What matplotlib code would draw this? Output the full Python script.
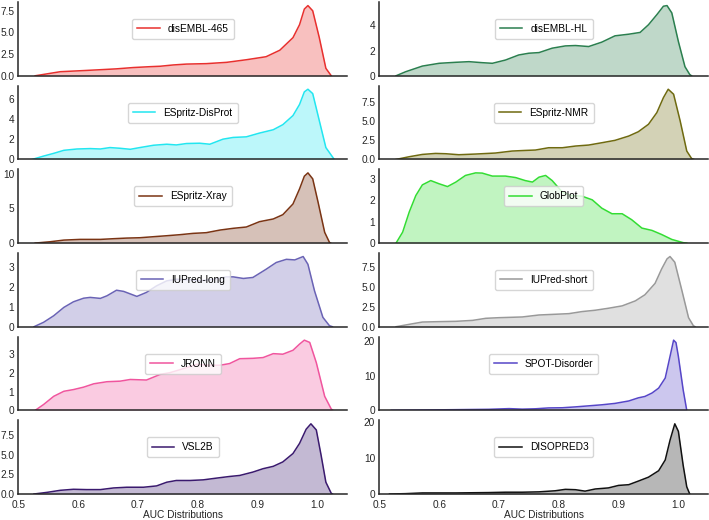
import matplotlib
matplotlib.use("Agg")
import matplotlib.pyplot as plt

plt.rcParams['font.family'] = ['Liberation Sans', 'DejaVu Sans']

# curves (AUC value, density)
disembl465_x = [0.528, 0.57, 0.609, 0.637, 0.664, 0.692, 0.72, 0.737, 0.759, 0.781, 0.814, 0.848,
                0.881, 0.914, 0.937, 0.959, 0.97, 0.978, 0.984, 0.992, 1.003, 1.014, 1.023]
disembl465_y = [0.0, 0.47, 0.6, 0.7, 0.8, 0.95, 1.05, 1.1, 1.25, 1.35, 1.4, 1.55,
                1.85, 2.2, 2.95, 4.4, 5.9, 7.7, 8.1, 7.5, 4.4, 0.86, 0.0]

disprot_x = [0.523, 0.542, 0.559, 0.576, 0.598, 0.62, 0.637, 0.653, 0.67, 0.687, 0.703, 0.726,
             0.748, 0.764, 0.781, 0.803, 0.82, 0.842, 0.859, 0.881, 0.903, 0.926, 0.942, 0.959,
             0.97, 0.978, 0.984, 0.992, 1.003, 1.014, 1.026, 1.028]
disprot_y = [0.0, 0.33, 0.6, 0.9, 1.03, 1.07, 1.03, 1.17, 1.1, 1.0, 1.17, 1.4,
             1.5, 1.43, 1.57, 1.6, 1.5, 2.0, 2.17, 2.23, 2.6, 2.93, 3.43, 4.33,
             5.43, 6.67, 6.93, 6.5, 3.83, 1.17, 0.17, 0.0]

xray_x = [0.528, 0.553, 0.576, 0.603, 0.637, 0.659, 0.681, 0.703, 0.726, 0.748, 0.77, 0.792,
          0.814, 0.837, 0.859, 0.881, 0.903, 0.926, 0.942, 0.959, 0.97, 0.978, 0.984, 0.992,
          1.001, 1.012, 1.02, 1.022]
xray_y = [0.0, 0.19, 0.43, 0.53, 0.53, 0.63, 0.72, 0.77, 0.92, 1.06, 1.21, 1.4,
          1.5, 1.88, 2.13, 2.32, 3.09, 3.48, 4.1, 5.65, 7.83, 9.66, 10.14, 9.28,
          5.89, 1.55, 0.1, 0.0]

iulong_x = [0.526, 0.542, 0.559, 0.576, 0.592, 0.609, 0.62, 0.637, 0.648, 0.664, 0.676, 0.698,
            0.714, 0.731, 0.748, 0.764, 0.787, 0.803, 0.826, 0.848, 0.859, 0.876, 0.892, 0.914,
            0.931, 0.948, 0.962, 0.976, 0.984, 0.995, 1.009, 1.02, 1.025]
iulong_y = [0.0, 0.22, 0.55, 0.97, 1.25, 1.43, 1.47, 1.42, 1.55, 1.83, 1.77, 1.52,
            1.72, 2.05, 2.3, 2.38, 2.35, 2.3, 2.38, 2.5, 2.5, 2.42, 2.47, 2.88,
            3.22, 3.38, 3.35, 3.52, 3.13, 1.8, 0.47, 0.05, 0.0]

jronn_x = [0.528, 0.542, 0.559, 0.576, 0.592, 0.609, 0.626, 0.648, 0.67, 0.687, 0.714, 0.737,
           0.753, 0.776, 0.798, 0.82, 0.837, 0.853, 0.87, 0.892, 0.909, 0.926, 0.942, 0.959,
           0.97, 0.978, 0.987, 0.998, 1.012, 1.023, 1.026]
jronn_y = [0.0, 0.31, 0.75, 1.02, 1.11, 1.24, 1.42, 1.53, 1.56, 1.65, 1.62, 1.92,
           2.01, 2.23, 2.46, 2.41, 2.41, 2.5, 2.76, 2.78, 2.82, 3.03, 3.0, 3.21,
           3.54, 3.75, 3.63, 2.55, 0.75, 0.07, 0.0]

vsl2b_x = [0.526, 0.548, 0.57, 0.592, 0.614, 0.637, 0.659, 0.681, 0.709, 0.731, 0.748, 0.764,
           0.787, 0.809, 0.831, 0.853, 0.87, 0.892, 0.909, 0.926, 0.942, 0.959, 0.97, 0.981,
           0.989, 0.998, 1.006, 1.014, 1.023, 1.025]
vsl2b_y = [0.0, 0.21, 0.47, 0.6, 0.56, 0.56, 0.77, 0.86, 0.86, 1.03, 1.5, 1.72,
           1.72, 1.8, 2.02, 2.23, 2.36, 2.79, 3.22, 3.52, 4.08, 5.15, 6.44, 8.24,
           8.93, 8.15, 4.94, 1.5, 0.09, 0.0]

diseHL_x = [0.528, 0.544, 0.572, 0.6, 0.628, 0.65, 0.672, 0.689, 0.711, 0.733, 0.75, 0.767,
            0.789, 0.811, 0.828, 0.85, 0.872, 0.894, 0.917, 0.936, 0.95, 0.964, 0.975, 0.981,
            0.989, 1.0, 1.011, 1.019, 1.022]
diseHL_y = [0.0, 0.32, 0.77, 0.99, 1.07, 1.12, 1.04, 0.99, 1.25, 1.65, 1.79, 1.84,
            2.19, 2.37, 2.4, 2.32, 2.67, 3.17, 3.3, 3.44, 4.05, 4.85, 5.52, 5.57,
            4.99, 2.72, 0.72, 0.1, 0.0]

nmr_x = [0.528, 0.55, 0.572, 0.594, 0.611, 0.633, 0.661, 0.694, 0.722, 0.744, 0.761, 0.783,
         0.806, 0.828, 0.85, 0.872, 0.894, 0.917, 0.933, 0.95, 0.964, 0.975, 0.983, 0.992,
         1.003, 1.014, 1.022, 1.026]
nmr_y = [0.0, 0.35, 0.65, 0.78, 0.74, 0.61, 0.7, 0.83, 1.09, 1.17, 1.22, 1.52,
         1.52, 1.74, 1.87, 2.17, 2.48, 3.04, 3.6, 4.57, 6.09, 8.04, 9.13, 8.48,
         5.0, 1.09, 0.13, 0.0]

globplot_x = [0.528, 0.539, 0.55, 0.561, 0.572, 0.586, 0.6, 0.614, 0.628, 0.644, 0.661, 0.672,
              0.689, 0.711, 0.728, 0.744, 0.756, 0.767, 0.778, 0.789, 0.806, 0.822, 0.839, 0.856,
              0.872, 0.889, 0.906, 0.922, 0.939, 0.956, 0.972, 0.989, 1.008, 1.014]
globplot_y = [0.0, 0.51, 1.45, 2.22, 2.72, 2.92, 2.77, 2.64, 2.85, 3.16, 3.28, 3.27,
              3.13, 3.13, 3.06, 2.92, 2.85, 3.08, 3.16, 2.92, 2.38, 2.22, 2.19, 2.02,
              1.63, 1.37, 1.37, 1.09, 0.7, 0.59, 0.4, 0.17, 0.02, 0.0]

iushort_x = [0.528, 0.55, 0.572, 0.6, 0.628, 0.656, 0.678, 0.7, 0.722, 0.739, 0.767, 0.794,
             0.817, 0.839, 0.861, 0.883, 0.906, 0.928, 0.944, 0.961, 0.972, 0.981, 0.986, 0.994,
             1.006, 1.017, 1.025, 1.028]
iushort_y = [0.0, 0.3, 0.59, 0.64, 0.68, 0.8, 1.06, 1.14, 1.19, 1.23, 1.48, 1.57,
             1.65, 1.91, 2.08, 2.33, 2.63, 3.26, 4.03, 5.47, 7.29, 8.56, 8.86, 8.14,
             4.53, 1.14, 0.13, 0.0]

spot_x = [0.52, 0.572, 0.628, 0.683, 0.717, 0.739, 0.761, 0.783, 0.806, 0.828, 0.85, 0.872,
          0.894, 0.917, 0.933, 0.944, 0.956, 0.967, 0.978, 0.986, 0.992, 0.996, 1.0, 1.008, 1.014]
spot_y = [0.02, 0.1, 0.2, 0.3, 0.5, 0.35, 0.45, 0.7, 0.75, 1.0, 1.3, 1.6,
          2.0, 2.7, 3.6, 4.0, 5.0, 6.4, 9.3, 15.5, 20.2, 19.5, 15.5, 5.9, 0.0]

disopred_x = [0.517, 0.544, 0.572, 0.628, 0.683, 0.711, 0.739, 0.767, 0.794, 0.811, 0.828, 0.844,
              0.861, 0.883, 0.9, 0.917, 0.933, 0.95, 0.967, 0.978, 0.986, 0.994, 1.0, 1.008,
              1.014, 1.019]
disopred_y = [0.0, 0.1, 0.3, 0.3, 0.4, 0.5, 0.5, 0.6, 0.9, 1.3, 1.2, 0.8,
              1.4, 1.7, 2.4, 2.6, 3.6, 4.7, 6.5, 9.5, 15.0, 19.6, 17.5, 8.0,
              2.0, 0.0]

names_left = ["disEMBL-465", "ESpritz-DisProt", "ESpritz-Xray", "IUPred-long", "JRONN", "VSL2B"]
names_right = ["disEMBL-HL", "ESpritz-NMR", "GlobPlot", "IUPred-short", "SPOT-Disorder", "DISOPRED3"]
curves_left = [(disembl465_x, disembl465_y), (disprot_x, disprot_y), (xray_x, xray_y),
               (iulong_x, iulong_y), (jronn_x, jronn_y), (vsl2b_x, vsl2b_y)]
curves_right = [(diseHL_x, diseHL_y), (nmr_x, nmr_y), (globplot_x, globplot_y),
                (iushort_x, iushort_y), (spot_x, spot_y), (disopred_x, disopred_y)]
colors_left = ["#e8302e", "#22e6f0", "#7a3414", "#6a63b5", "#f0559e", "#3a1a6e"]
colors_right = ["#2b7f4f", "#6f6a10", "#33dd33", "#999999", "#5646c8", "#111111"]
yticks_left = [[0, 2.5, 5, 7.5], [0, 2, 4, 6], [0, 5, 10], [0, 1, 2, 3], [0, 1, 2, 3], [0, 2.5, 5, 7.5]]
yticks_right = [[0, 2, 4], [0, 2.5, 5, 7.5], [0, 1, 2, 3], [0, 2.5, 5, 7.5], [0, 10, 20], [0, 10, 20]]
xticks = [0.5, 0.6, 0.7, 0.8, 0.9, 1.0]

fig, axes = plt.subplots(6, 2, sharex=True, figsize=(7.09, 5.2), dpi=100)
plt.subplots_adjust(left=0.026, right=0.999, top=0.996, bottom=0.05, wspace=0.097, hspace=0.135)

for col, (names, curves, colors, yts) in enumerate([
        (names_left, curves_left, colors_left, yticks_left),
        (names_right, curves_right, colors_right, yticks_right)]):
    for row in range(6):
        ax = axes[row, col]
        x, y = curves[row]
        ax.fill_between(x, 0, y, color=colors[row], alpha=0.3, linewidth=0)
        ax.plot(x, y, color=colors[row], linewidth=1.1, label=names[row])
        ax.set_xlim(0.5, 1.05)
        ax.set_ylim(0, max(y) * 1.05)
        ax.set_yticks(yts[row])
        ax.set_yticklabels([("%.1f" % t) if 2.5 in yts[row] else str(int(t)) for t in yts[row]])
        for s in ["top", "right"]:
            ax.spines[s].set_visible(False)
        for s in ["left", "bottom"]:
            ax.spines[s].set_color("#262626")
            ax.spines[s].set_linewidth(1.1)
        ax.tick_params(length=0, labelsize=7.3, pad=3, colors="#262626")
        leg = ax.legend(loc="upper center", bbox_to_anchor=(0.5, 0.84), fontsize=7.3,
                        handlelength=2.2, borderpad=0.5, framealpha=0.8, fancybox=True)
        leg.get_frame().set_edgecolor("#cccccc")
    axes[5, col].set_xticks(xticks)
    axes[5, col].set_xticklabels([str(t) for t in xticks])
    axes[5, col].tick_params(axis="x", pad=4.5)
    axes[5, col].set_xlabel("AUC Distributions", fontsize=7.3, labelpad=0, color="#262626")

plt.savefig("out.png", dpi=100)
